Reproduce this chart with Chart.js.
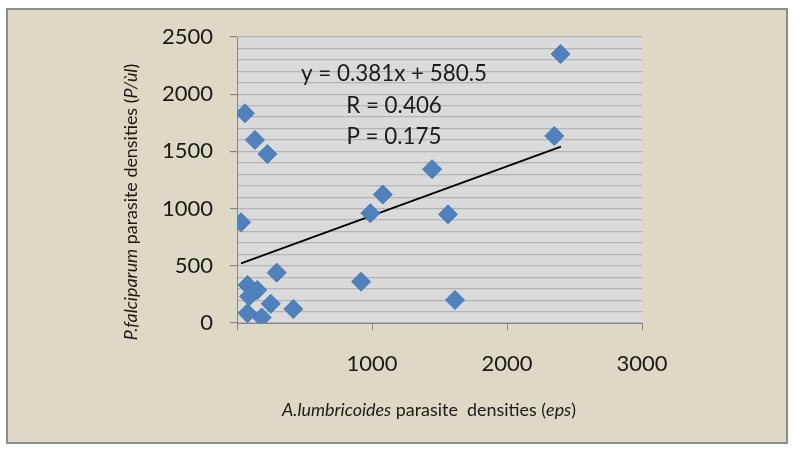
<!DOCTYPE html>
<html><head><meta charset="utf-8">
<script src="https://cdn.jsdelivr.net/npm/chart.js@4.4.0/dist/chart.umd.min.js"></script>
<style>html,body{margin:0;padding:0;background:#fff;}canvas{display:block;}</style>
</head><body>
<canvas id="c" width="796" height="452"></canvas>
<script>
// A. lumbricoides densities (eps) vs P. falciparum densities (P/ul)
const epsValues = [30, 59, 133, 225, 78, 150, 90, 294, 250, 78, 183, 417, 919, 988, 1080, 1445, 1563, 1615, 2350, 2397];
const pfValues  = [880, 1833, 1600, 1477, 332, 288, 233, 440, 168, 85, 48, 122, 361, 959, 1123, 1345, 950, 201, 1635, 2351];
const trendX = [30, 2400];
const trendY = [522, 1541];
const xTickValues = [0, 1000, 2000, 3000];
const yTickValues = [0, 500, 1000, 1500, 2000, 2500];
const equationLines = ['y = 0.381x + 580.5', 'R = 0.406', 'P = 0.175'];
const xTitleParts = [['A.lumbricoides', true], [' parasite  densities (', false], ['eps', true], [')', false]];
const yTitleParts = [['P.falciparum', true], [' parasite densities (', false], ['P/ùl', true], [')', false]];

const FONT = 'Lato';
const scatterPoints = epsValues.map((x, i) => ({x: x, y: pfValues[i]}));
const trendPoints = trendX.map((x, i) => ({x: x, y: trendY[i]}));

function drawParts(ctx, parts, size, cx, cy) {
  let total = 0;
  const widths = parts.map(([t, it]) => {
    ctx.font = (it ? 'italic ' : '') + size + 'px ' + FONT;
    const w = ctx.measureText(t).width; total += w; return w;
  });
  let x = cx - total / 2;
  ctx.textAlign = 'left'; ctx.textBaseline = 'middle';
  parts.forEach(([t, it], i) => {
    ctx.font = (it ? 'italic ' : '') + size + 'px ' + FONT;
    ctx.fillText(t, x, cy); x += widths[i];
  });
}

const decor = {
  id: 'decor',
  beforeDraw(chart) {
    const ctx = chart.ctx, a = chart.chartArea;
    ctx.save();
    ctx.fillStyle = '#ffffff'; ctx.fillRect(0, 0, chart.width, chart.height);
    ctx.fillStyle = '#ddd9c4'; ctx.fillRect(7, 9, 780, 434);
    ctx.strokeStyle = '#8c8c8c'; ctx.lineWidth = 2; ctx.strokeRect(7, 9, 780, 434);
    ctx.fillStyle = '#dadada'; ctx.fillRect(a.left, a.top, a.right - a.left, a.bottom - a.top);
    ctx.restore();
  },
  afterDraw(chart) {
    const ctx = chart.ctx;
    ctx.save();
    ctx.fillStyle = '#1a1a1a';
    ctx.font = '22.4px ' + FONT; ctx.textAlign = 'center'; ctx.textBaseline = 'middle';
    const ys = [74, 105.5, 136.5];
    equationLines.forEach((t, i) => ctx.fillText(t, 394, ys[i]));
    drawParts(ctx, xTitleParts, 17.9, 429, 410);
    ctx.translate(131, 202); ctx.rotate(-Math.PI / 2);
    drawParts(ctx, yTitleParts, 17.9, 0, 0);
    ctx.restore();
  }
};

new Chart(document.getElementById('c'), {
  type: 'scatter',
  data: {
    datasets: [
      { type: 'line', data: trendPoints, borderColor: '#000000', borderWidth: 1.8, pointRadius: 0, fill: false, order: 1 },
      { data: scatterPoints, pointStyle: 'rectRot', pointRadius: 9.5, pointHoverRadius: 9.5,
        backgroundColor: '#4f81bd', borderColor: '#4a7ab4', borderWidth: 1, order: 0 }
    ]
  },
  options: {
    responsive: false, animation: false, devicePixelRatio: 1,
    layout: { padding: { left: 20, right: 154, top: 37, bottom: 69 } },
    plugins: { legend: { display: false }, tooltip: { enabled: false } },
    scales: {
      x: {
        type: 'linear', min: 0, max: 3000,
        afterBuildTicks: s => { s.ticks = xTickValues.map(v => ({value: v})); },
        afterFit: s => { s.height = 60; },
        ticks: { callback: v => v === 0 ? '' : String(v), font: { family: FONT, size: 22 }, color: '#1a1a1a', padding: 21, maxRotation: 0, autoSkip: false },
        grid: { drawOnChartArea: false, tickLength: 7, tickColor: '#868686', color: '#868686' },
        border: { color: '#868686', width: 1 }
      },
      y: {
        type: 'linear', min: 0, max: 2500,
        ticks: { stepSize: 100, autoSkip: false, callback: v => (v % 500 === 0 ? String(v) : ''),
                 font: { family: FONT, size: 22 }, color: '#1a1a1a', padding: 17 },
        afterFit: s => { s.width = 217; },
        grid: { color: '#b4b4b4', lineWidth: 1.2, tickLength: 7,
                tickColor: ctx => (ctx.tick && ctx.tick.value % 500 === 0 ? '#868686' : 'rgba(0,0,0,0)') },
        border: { color: '#868686', width: 1 }
      }
    }
  },
  plugins: [decor]
});
</script>
</body></html>
